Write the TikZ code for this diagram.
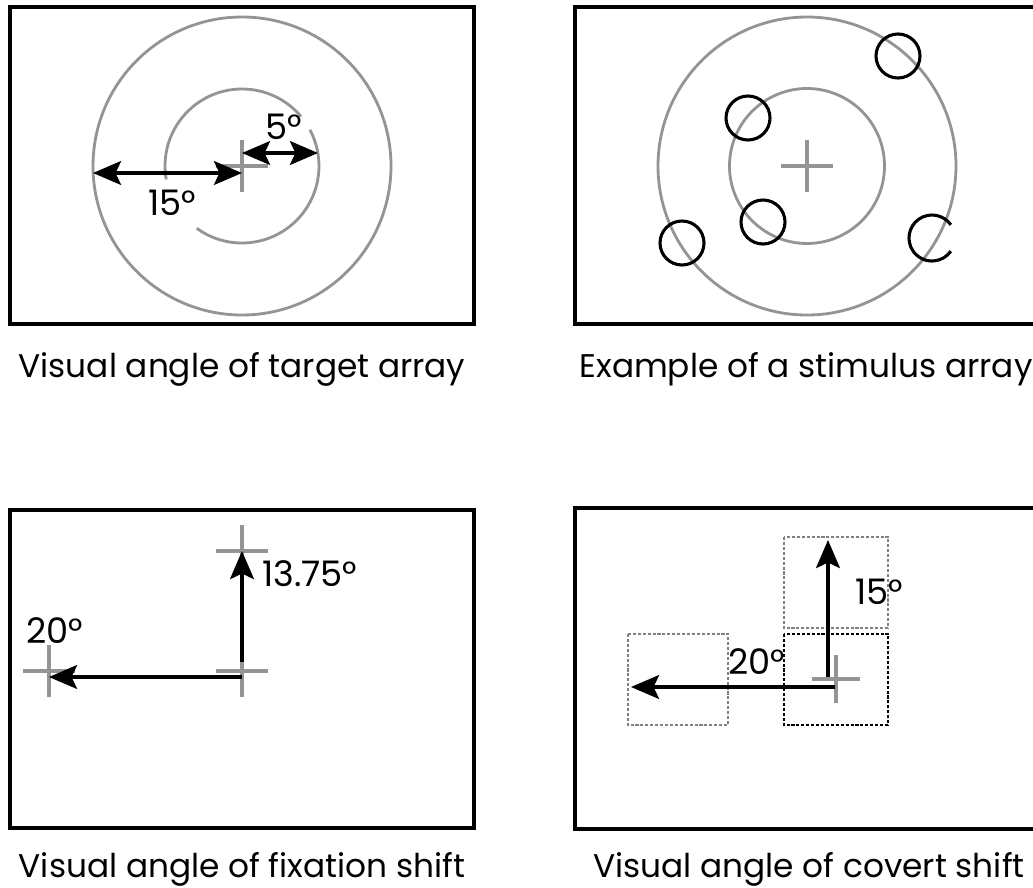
\documentclass[tikz,border=0pt]{standalone}
\usepackage{fontspec}
\setmainfont{Poppins}
\usetikzlibrary{positioning,arrows.meta}

\tikzset{
  screen/.style={draw=black,line width=2.2pt},
  ring/.style={draw=black!42,line width=2pt},
  target/.style={draw=black,line width=2.2pt},
  crossline/.style={draw=black!42,line width=2.4pt},
  oneway/.style={line width=2.2pt,-{Stealth[length=20pt,width=17pt,inset=4pt]}},
  twoway/.style={line width=2.2pt,{Stealth[length=20pt,width=17pt,inset=4pt]}-{Stealth[length=20pt,width=17pt,inset=4pt]}},
  window/.style={dash pattern=on 2.2pt off 1.3pt,line width=0.9pt},
  caption/.style={anchor=base,inner sep=0pt,font=\fontsize{23.3}{28}\selectfont},
  angle/.style={inner sep=0pt}
}
\newcommand{\fixcross}[2]{\draw[crossline] (#1) ++(-#2,0) -- ++(2*#2,0) (#1) ++(0,-#2) -- ++(0,2*#2);}

\begin{document}
\begin{tikzpicture}[x=0.025cm,y=-0.025cm,font=\fontsize{25}{30}\selectfont]
  \useasboundingbox (0,0) rectangle (1033,888);

  % target array
  \draw[screen] (10,7) rectangle (474,324);
  \coordinate (c1) at (242,166);
  \draw[ring] (c1) circle (149);
  \draw[ring] (c1) ++(-40:77) arc[start angle=-40,end angle=-190,radius=77];
  \draw[ring] (c1) ++(-234:77) arc[start angle=-234,end angle=-388,radius=77];
  \fixcross{c1}{26}
  \coordinate (o15) at (93,173);
  \coordinate (m15) at (242,173);
  \coordinate (m5) at (242,153);
  \coordinate (i5) at (318,153);
  \draw[twoway] (o15) -- (m15);
  \draw[twoway] (m5) -- (i5);
  \node[angle] (a15) at (172,203) {15°};
  \node[angle] (a5) at (284,127) {5°};
  \node[caption] (cap1) at (242,377) {Visual angle of target array};

  % stimulus array
  \draw[screen] (575,7) rectangle (1040,324);
  \coordinate (c2) at (807,166);
  \draw[ring] (c2) circle (149);
  \draw[ring] (c2) circle (77.5);
  \fixcross{c2}{26}
  \foreach \p in {(898,56),(748,118),(763,222),(682,243)}
    \draw[target] \p circle (22);
  \draw[target] (932,238) ++(-35:23) arc[start angle=-35,end angle=-325,radius=23];
  \node[caption] (cap2) at (806,377) {Example of a stimulus array};

  % fixation shift
  \draw[screen] (10,510) rectangle (474,828);
  \coordinate (fx0) at (242,671);
  \coordinate (fxup) at (242,551);
  \coordinate (fxleft) at (49,671);
  \fixcross{fx0}{26}
  \fixcross{fxup}{26}
  \fixcross{fxleft}{26}
  \coordinate (v0) at (242,662);
  \coordinate (h0) at (242,677);
  \coordinate (h1) at (49,677);
  \draw[oneway] (v0) -- (fxup);
  \draw[oneway] (h0) -- (h1);
  \node[angle,anchor=west] (a1375) at (262,574) {13.75°};
  \node[angle] (a20f) at (55,631) {20°};
  \node[caption] (cap3) at (242,877) {Visual angle of fixation shift};

  % covert shift
  \draw[screen] (575,508) rectangle (1040,829);
  \draw[window,black!50] (784,537) rectangle (888,628);
  \draw[window,black] (784,634) rectangle (888,725);
  \draw[window,black!50] (628,634) rectangle (728,725);
  \coordinate (cv0) at (836,679);
  \fixcross{cv0}{24}
  \coordinate (cvv0) at (828,677);
  \coordinate (cvv1) at (828,540);
  \coordinate (cvh0) at (835,687);
  \coordinate (cvh1) at (631,687);
  \draw[oneway] (cvv0) -- (cvv1);
  \draw[oneway] (cvh0) -- (cvh1);
  \node[angle] (a15c) at (879,592) {15°};
  \node[angle] (a20c) at (757,662) {20°};
  \node[caption] (cap4) at (809,877) {Visual angle of covert shift};
\end{tikzpicture}
\end{document}
